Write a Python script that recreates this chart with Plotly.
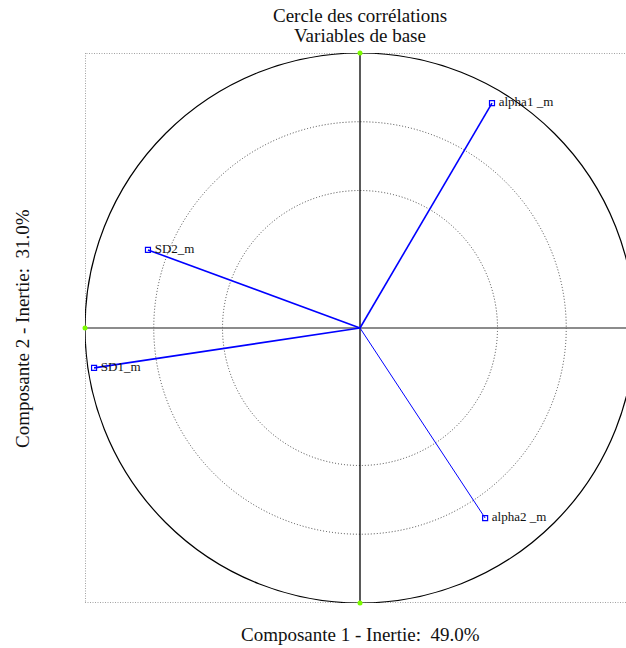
import plotly.graph_objects as go

var_names = ["alpha1 _m", "SD2_m", "SD1_m", "alpha2 _m"]
comp1 = [0.48, -0.771, -0.967, 0.455]
comp2 = [0.818, 0.284, -0.145, -0.691]
line_widths = [1.6, 1.6, 1.6, 1.0]
circle_radii = [1.0, 0.75, 0.5]
title_lines = ["Cercle des corrélations", "Variables de base"]
x_title = "Composante 1 - Inertie:\u00a0 49.0%"
y_title = "Composante 2 - Inertie:\u00a0 31.0%"

FONT = "Liberation Serif, Times New Roman, serif"

fig = go.Figure()

shapes = []
for r in circle_radii:
    shapes.append(dict(type="circle", xref="x", yref="y", x0=-r, y0=-r, x1=r, y1=r,
                       line=dict(color="black" if r == 1.0 else "#333",
                                 width=1.2 if r == 1.0 else 0.9,
                                 dash="solid" if r == 1.0 else "1px,2px"),
                       layer="below"))
shapes.append(dict(type="rect", xref="x", yref="y", x0=-1, y0=-1, x1=1, y1=1,
                   line=dict(color="#444", width=1, dash="1px,1.5px"), layer="below"))
shapes.append(dict(type="line", xref="x", yref="y", x0=-1, y0=0, x1=1, y1=0,
                   line=dict(color="#666", width=1.5), layer="below"))
shapes.append(dict(type="line", xref="x", yref="y", x0=0, y0=-1, x1=0, y1=1,
                   line=dict(color="black", width=1.3), layer="below"))

for name, cx, cy, lw in zip(var_names, comp1, comp2, line_widths):
    fig.add_trace(go.Scatter(x=[0, cx], y=[0, cy], mode="lines",
                             line=dict(color="blue", width=lw),
                             showlegend=False, hoverinfo="skip"))

fig.add_trace(go.Scatter(x=comp1, y=comp2, mode="markers+text",
                         text=["\u2009" + t for t in var_names],
                         textposition="middle right",
                         textfont=dict(family=FONT, size=13, color="#111"),
                         marker=dict(symbol="square-open", size=5, color="blue",
                                     line=dict(width=1.2, color="blue")),
                         showlegend=False, cliponaxis=False))

fig.add_trace(go.Scatter(x=[-1, 0, 0, 1], y=[0, 1, -1, 0], mode="markers",
                         marker=dict(symbol="circle", size=5, color="#7cfc00"),
                         showlegend=False, cliponaxis=False))

TF = dict(family=FONT, size=19, color="#111")
annotations = [
    dict(text=title_lines[0], xref="x", yref="paper", x=0, y=(603 - 16) / 550,
         showarrow=False, font=TF, yanchor="middle"),
    dict(text=title_lines[1], xref="x", yref="paper", x=0, y=(603 - 35) / 550,
         showarrow=False, font=TF, yanchor="middle"),
    dict(text=x_title, xref="x", yref="paper", x=0, y=(603 - 634) / 550,
         showarrow=False, font=TF, yanchor="middle"),
    dict(text=y_title, xref="paper", yref="paper", x=(22 - 85) / 541, y=(603 - 329) / 550,
         showarrow=False, textangle=-90, font=TF, xanchor="center", yanchor="middle"),
]

fig.update_layout(
    width=626, height=648,
    margin=dict(l=85, r=0, t=53, b=45),
    paper_bgcolor="white", plot_bgcolor="white",
    shapes=shapes, annotations=annotations,
    xaxis=dict(range=[-1, (626 - 360) / 275], showgrid=False, zeroline=False,
               showticklabels=False, showline=False, ticks=""),
    yaxis=dict(range=[-1, 1], showgrid=False, zeroline=False,
               showticklabels=False, showline=False, ticks=""),
)

fig.write_html("out.html", config={"displayModeBar": False},
               post_script="document.body.style.margin='0';document.body.style.overflow='hidden';")
